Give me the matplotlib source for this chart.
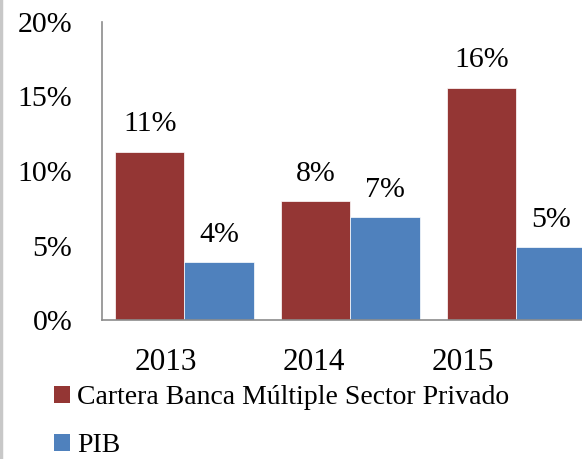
import matplotlib
matplotlib.use("Agg")
import matplotlib.pyplot as plt
from matplotlib.patches import Patch
from matplotlib.lines import Line2D
import numpy as np

years = ["2013", "2014", "2015"]
cartera = [11.3, 8.0, 15.6]
pib = [3.9, 6.9, 4.9]
cartera_labels = ["11%", "8%", "16%"]
pib_labels = ["4%", "7%", "5%"]
series_names = ["Cartera Banca Múltiple Sector Privado", "PIB"]
yticks = [0, 5, 10, 15, 20]

RED = "#943634"
BLUE = "#4F81BD"
FONT = "Liberation Serif"
plt.rcParams['font.family'] = [FONT, 'DejaVu Serif']

fig = plt.figure(figsize=(5.82, 4.59), dpi=100)
ax = fig.add_axes([101.5/582, (459-320)/459, 498/582, 298/459])

x = np.arange(len(years))
w = 0.416
b1 = ax.bar(x - w/2, cartera, width=w, color=RED, edgecolor="white", linewidth=0.5)
b2 = ax.bar(x + w/2, pib, width=w, color=BLUE, edgecolor="white", linewidth=0.5)

for bars, labels in ((b1, cartera_labels), (b2, pib_labels)):
    for rect, lab in zip(bars, labels):
        ax.annotate(lab, (rect.get_x() + rect.get_width()/2, rect.get_height()),
                    xytext=(0, 14.5), textcoords="offset points", ha="center", va="baseline",
                    fontsize=21.5)

ax.set_xlim(-0.5, 2.5)
ax.set_ylim(0, 20)
ax.set_yticks(yticks)
ax.set_yticklabels([f"{v}%" for v in yticks], fontsize=21.5)
# year labels in the original sit slightly left of the bar groups
label_shift_px = np.array([-18.5, -36.5, -54.0])
ax.set_xticks(x + label_shift_px/166)
ax.set_xticklabels(years, fontsize=22.5)
ax.tick_params(axis="y", length=0, pad=21)
ax.tick_params(axis="x", length=0, pad=20)
for s in ["top", "right"]:
    ax.spines[s].set_visible(False)
for s in ["left", "bottom"]:
    ax.spines[s].set_color("#8C8C8C")
    ax.spines[s].set_linewidth(1.2)

handles = [Patch(facecolor=RED, edgecolor="none"), Patch(facecolor=BLUE, edgecolor="none")]
fig.legend(handles, series_names, loc="upper left", bbox_to_anchor=(54/582, 1 - 385/459),
           frameon=False, fontsize=20, handlelength=0.58, handleheight=0.58,
           handletextpad=0.25, labelspacing=0.84, borderaxespad=0, borderpad=0)

fig.add_artist(Line2D([0.002, 0.002], [0, 1], color="#C8C8C8", linewidth=2.5, transform=fig.transFigure))

fig.savefig("out.png", dpi=100)
